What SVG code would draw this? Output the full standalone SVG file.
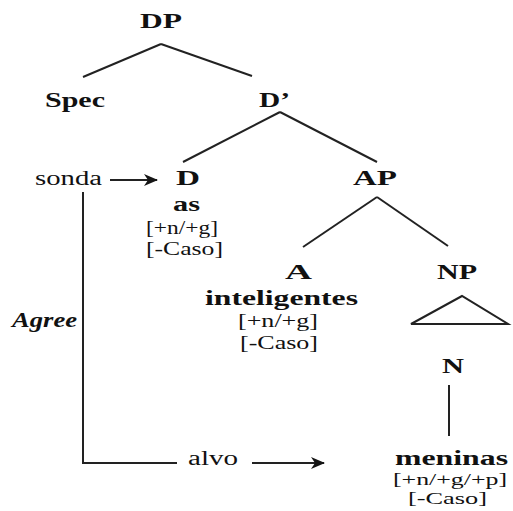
<svg xmlns="http://www.w3.org/2000/svg" width="513" height="511" viewBox="0 0 513 511">
<defs>
<style>
.t text{font-family:'Liberation Serif','Times New Roman',Times,serif;font-size:20px;fill:#111}
.t .b{font-weight:bold}
.t .bi{font-weight:bold;font-style:italic}
.t .s{font-size:18px}
.t .s2{font-size:16px}
.l{stroke:#222;stroke-width:2;fill:none}
</style>
<marker id="ah" markerWidth="14" markerHeight="12" refX="13" refY="6" orient="auto" markerUnits="userSpaceOnUse">
<path d="M0,0 L14,6 L0,12 L4,6 Z" fill="#151515"/>
</marker>
</defs>
<rect width="513" height="511" fill="#fff"/>
<g id="connectors">
<line class="l" x1="161" y1="44" x2="83" y2="77"/>
<line class="l" x1="161" y1="44" x2="252" y2="76"/>
<line class="l" x1="280" y1="112" x2="183" y2="162"/>
<line class="l" x1="280" y1="112" x2="377" y2="162"/>
<line class="l" x1="377" y1="197" x2="303" y2="247"/>
<line class="l" x1="377" y1="197" x2="448" y2="246"/>
<line class="l" x1="449" y1="385" x2="449" y2="436"/>
<line class="l" x1="110" y1="180" x2="157" y2="180" marker-end="url(#ah)"/>
<polyline class="l" points="83,192 83,463 177,463"/>
<line class="l" x1="252" y1="463" x2="324" y2="463" marker-end="url(#ah)"/>
</g>
<g class="t">
<g id="DP"><text class="b" x="140" y="28" textLength="42" lengthAdjust="spacingAndGlyphs">DP</text></g>
<g id="Spec"><text class="b" x="45" y="107" textLength="60" lengthAdjust="spacingAndGlyphs">Spec</text></g>
<g id="Dbar"><text class="b" x="259" y="107" textLength="31" lengthAdjust="spacingAndGlyphs">D’</text></g>
<g id="sonda"><text x="35" y="185" textLength="67" lengthAdjust="spacingAndGlyphs">sonda</text></g>
<g id="D">
<text class="b" x="176" y="185" textLength="24" lengthAdjust="spacingAndGlyphs">D</text>
<text class="b" x="173" y="211" textLength="27" lengthAdjust="spacingAndGlyphs">as</text>
<text class="s" x="146" y="234" textLength="72" lengthAdjust="spacingAndGlyphs">[+n/+g]</text>
<text class="s" x="146" y="255" textLength="77" lengthAdjust="spacingAndGlyphs">[-Caso]</text>
</g>
<g id="AP"><text class="b" x="353" y="185" textLength="44" lengthAdjust="spacingAndGlyphs">AP</text></g>
<g id="A">
<text class="b" x="285" y="279" textLength="27" lengthAdjust="spacingAndGlyphs">A</text>
<text class="b" x="205" y="305" textLength="153" lengthAdjust="spacingAndGlyphs">inteligentes</text>
<text class="s" x="238" y="327" textLength="80" lengthAdjust="spacingAndGlyphs">[+n/+g]</text>
<text class="s" x="240" y="349" textLength="78" lengthAdjust="spacingAndGlyphs">[-Caso]</text>
</g>
<g id="NP">
<text class="b" x="437" y="279" textLength="40" lengthAdjust="spacingAndGlyphs">NP</text>
<polygon points="462,296 411,324 508,324" fill="none" stroke="#222" stroke-width="2"/>
</g>
<g id="N"><text class="b" x="442" y="373" textLength="22" lengthAdjust="spacingAndGlyphs">N</text></g>
<g id="Agree"><text class="bi" x="12" y="327" textLength="65" lengthAdjust="spacingAndGlyphs">Agree</text></g>
<g id="alvo"><text x="188" y="465" textLength="50" lengthAdjust="spacingAndGlyphs">alvo</text></g>
<g id="meninas">
<text class="b" x="395" y="465" textLength="113" lengthAdjust="spacingAndGlyphs">meninas</text>
<text class="s2" x="393" y="485" textLength="114" lengthAdjust="spacingAndGlyphs">[+n/+g/+p]</text>
<text class="s2" x="408" y="504" textLength="79" lengthAdjust="spacingAndGlyphs">[-Caso]</text>
</g>
</g>
</svg>
